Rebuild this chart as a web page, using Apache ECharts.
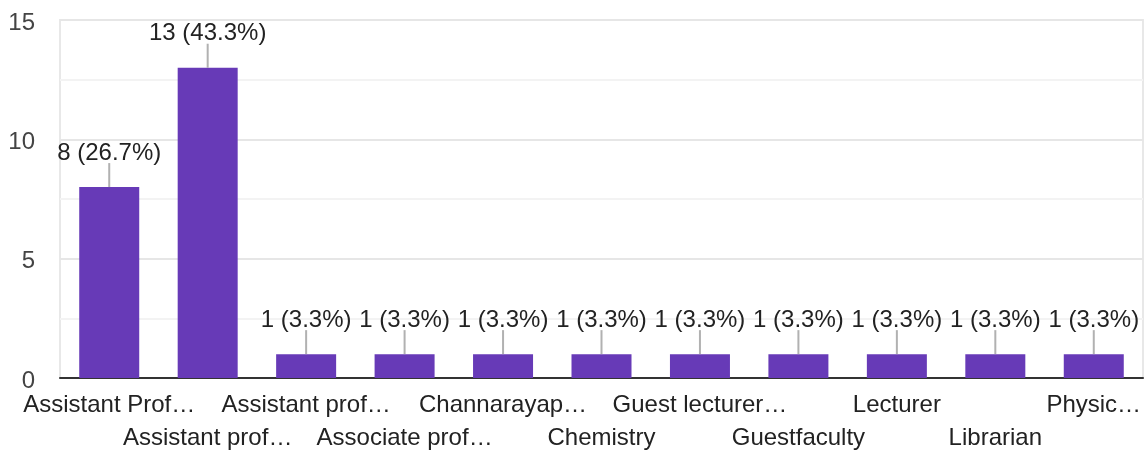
<!DOCTYPE html>
<html>
<head>
<meta charset="utf-8">
<script src="https://cdn.jsdelivr.net/npm/echarts@6/dist/echarts.min.js"></script>
<style>
html,body{margin:0;padding:0;background:#fff;}
#chart{width:1146px;height:455px;}
</style>
</head>
<body>
<div id="chart"></div>
<script>
const categories = ['Assistant Prof…','Assistant prof…','Assistant prof…','Associate prof…','Channarayap…','Chemistry','Guest lecturer…','Guestfaculty','Lecturer','Librarian','Physic…'];
const values = [8, 13, 1, 1, 1, 1, 1, 1, 1, 1, 1];
const percents = ['26.7', '43.3', '3.3', '3.3', '3.3', '3.3', '3.3', '3.3', '3.3', '3.3', '3.3'];
const yTicks = [0, 5, 10, 15];

const FONT = 'Liberation Sans, Arial, sans-serif';
const chart = echarts.init(document.getElementById('chart'), null, {renderer: 'canvas'});
chart.setOption({
  animation: false,
  grid: {left: 60, right: 3, top: 20, bottom: 76, show: true, borderColor: '#e8e8e8', borderWidth: 2, backgroundColor: 'transparent'},
  xAxis: {
    type: 'category',
    data: categories,
    axisLine: {lineStyle: {color: '#333', width: 2}},
    axisTick: {show: false},
    axisLabel: {
      interval: 0,
      hideOverlap: false,
      color: '#222',
      fontFamily: FONT,
      fontSize: 24,
      lineHeight: 33,
      margin: 11,
      formatter: (v, i) => (i % 2 ? '\n' + v : v)
    }
  },
  yAxis: {
    type: 'value',
    min: 0,
    max: 15,
    interval: 2.5,
    axisLine: {show: false},
    axisTick: {show: false},
    axisLabel: {
      color: '#444',
      fontFamily: FONT,
      fontSize: 24,
      margin: 25,
      formatter: v => (yTicks.indexOf(v) >= 0 ? '{t|' + v + '}' : ''),
      rich: {t: {fontFamily: FONT, fontSize: 24, color: '#444', padding: [6, 0, 0, 0]}}
    },
    splitLine: {lineStyle: {color: ['#e6e6e6', '#f3f3f3'], width: 2}}
  },
  series: [
    {
      type: 'bar',
      data: values,
      barWidth: 60,
      itemStyle: {color: '#673AB7'},
      label: {
        show: true,
        position: 'top',
        distance: 22,
        color: '#222',
        fontFamily: FONT,
        fontSize: 24,
        lineHeight: 24,
        formatter: p => values[p.dataIndex] + ' (' + percents[p.dataIndex] + '%)'
      },
      z: 2
    },
    {
      type: 'scatter',
      data: values,
      symbol: 'rect',
      symbolSize: [2, 24],
      symbolOffset: [0, -12],
      itemStyle: {color: '#9e9e9e'},
      silent: true,
      z: 3
    }
  ]
});
</script>
</body>
</html>
